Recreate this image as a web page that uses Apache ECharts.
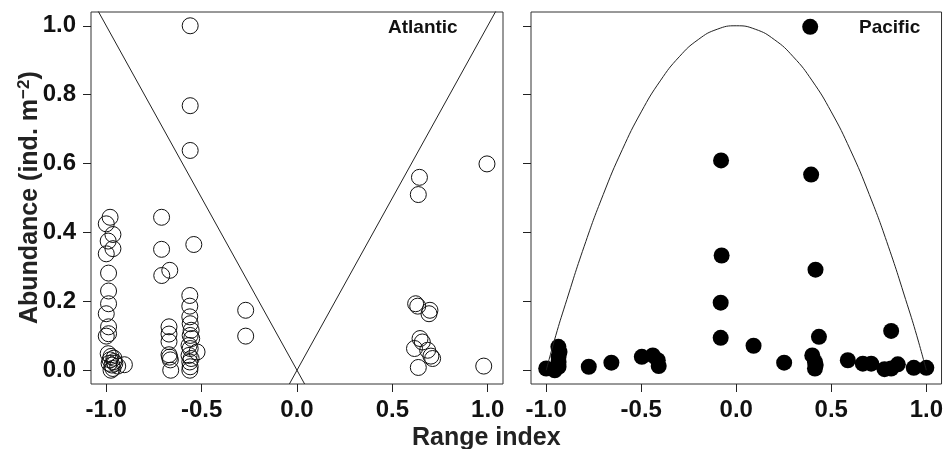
<!DOCTYPE html>
<html>
<head>
<meta charset="utf-8">
<script src="https://cdn.jsdelivr.net/npm/echarts@6/dist/echarts.min.js"></script>
<style>
  html, body { margin: 0; padding: 0; background: #fff; }
  #chart { width: 946px; height: 449px; }
</style>
</head>
<body>
<div id="chart"></div>
<script>
// Atlantic (open circles)
const atlanticX = [
  -0.56, -0.56, -0.56,
  -0.98, -1.0, -0.965, -0.99, -0.965, -1.0, -0.988, -0.988, -0.988, -1.0, -0.988, -1.0, -0.988,
  -0.99, -0.975, -0.98, -0.96, -0.985, -0.97, -0.955, -0.965, -0.975, -0.94, -0.905, -0.96,
  -0.71, -0.71, -0.667, -0.709, -0.671, -0.671, -0.671, -0.671, -0.668, -0.664, -0.662,
  -0.541, -0.562, -0.562, -0.562, -0.56, -0.555, -0.56, -0.552, -0.566, -0.56, -0.524, -0.566, -0.555, -0.562, -0.56, -0.562,
  -0.269, -0.269,
  0.996, 0.642, 0.636, 0.622, 0.633, 0.697, 0.692, 0.645, 0.657, 0.616, 0.685, 0.702, 0.711, 0.636, 0.979
];
const atlanticY = [
  1.0, 0.768, 0.638,
  0.444, 0.425, 0.394, 0.375, 0.353, 0.338, 0.282, 0.23, 0.193, 0.164, 0.126, 0.099, 0.106,
  0.048, 0.04, 0.03, 0.035, 0.02, 0.015, 0.02, 0.005, 0.0, 0.012, 0.016, 0.025,
  0.444, 0.351, 0.29, 0.275, 0.126, 0.105, 0.083, 0.045, 0.038, 0.03, 0.0,
  0.365, 0.217, 0.186, 0.155, 0.135, 0.116, 0.101, 0.092, 0.072, 0.063, 0.053, 0.043, 0.034, 0.024, 0.01, 0.0,
  0.174, 0.099,
  0.599, 0.56, 0.51, 0.193, 0.186, 0.174, 0.164, 0.092, 0.082, 0.063, 0.058, 0.041, 0.034, 0.008, 0.012
];

// Pacific (filled circles)
const pacificX = [
  0.389, 0.394, -0.08,
  -1.0, -0.936, -0.93, -0.935, -0.935, -0.935, -0.955,
  -0.776, -0.657, -0.497, -0.439, -0.413, -0.408,
  -0.077, -0.082, -0.082, 0.091, 0.252,
  0.417, 0.435, 0.4, 0.414, 0.418, 0.414,
  0.587, 0.666, 0.71, 0.815, 0.78, 0.815, 0.85, 0.934, 1.0
];
const pacificY = [
  0.997, 0.568, 0.609,
  0.005, 0.068, 0.053, 0.039, 0.024, 0.01, 0.0,
  0.01, 0.022, 0.039, 0.043, 0.029, 0.012,
  0.333, 0.196, 0.094, 0.071, 0.022,
  0.292, 0.097, 0.043, 0.024, 0.015, 0.005,
  0.029, 0.019, 0.019, 0.114, 0.003, 0.005, 0.017, 0.007, 0.007
];

// reference lines
const vLeftX = [-1.08, 0.04];
const vLeftY = [1.08, -0.04];
const vRightX = [-0.04, 1.08];
const vRightY = [-0.04, 1.08];
const curveX = [-1.0, -0.95, -0.9, -0.8, -0.7, -0.6, -0.5, -0.4, -0.3, -0.2, -0.1, 0.0,
  0.1, 0.2, 0.3, 0.4, 0.5, 0.6, 0.7, 0.8, 0.9, 0.95, 1.0];
const curveY = [0.0, 0.1, 0.19, 0.36, 0.51, 0.64, 0.75, 0.84, 0.91, 0.96, 0.99, 1.0,
  0.99, 0.96, 0.91, 0.84, 0.75, 0.64, 0.51, 0.36, 0.19, 0.1, 0.0];

const xTicks = [-1.0, -0.5, 0.0, 0.5, 1.0];
const yTicks = [0.0, 0.2, 0.4, 0.6, 0.8, 1.0];

function pairs(xs, ys) {
  return xs.map((x, i) => [x, ys[i]]);
}

const font = 'Liberation Sans, Arial, sans-serif';
const labelStyle = {fontFamily: font, fontWeight: 'bold', fontSize: 24, color: '#111'};

function xAxisFor(gridIndex) {
  return {
    type: 'value',
    gridIndex: gridIndex,
    position: 'bottom',
    min: -1.08,
    max: 1.08,
    axisLine: {show: false, onZero: false},
    splitLine: {show: false},
    axisTick: {show: true, inside: false, length: 8, lineStyle: {color: '#222'}, customValues: xTicks},
    axisLabel: Object.assign({margin: 14, customValues: xTicks, formatter: v => v.toFixed(1)}, labelStyle)
  };
}

function yAxisFor(gridIndex, showLabels) {
  return {
    type: 'value',
    gridIndex: gridIndex,
    position: 'left',
    min: -0.04,
    max: 1.04,
    axisLine: {show: false, onZero: false},
    splitLine: {show: false},
    axisTick: {show: true, inside: false, length: 8, lineStyle: {color: '#222'}, customValues: yTicks},
    axisLabel: Object.assign({show: showLabels, margin: 15, customValues: yTicks, formatter: v => v.toFixed(1)}, labelStyle)
  };
}

const chart = echarts.init(document.getElementById('chart'), null, {renderer: 'canvas'});
const option = {
  backgroundColor: '#fff',
  animation: false,
  grid: [
    {left: 91, right: 443, top: 12, bottom: 65, show: true, borderColor: '#333', borderWidth: 1},
    {left: 531, right: 2, top: 12, bottom: 65, show: true, borderColor: '#333', borderWidth: 1}
  ],
  xAxis: [xAxisFor(0), xAxisFor(1)],
  yAxis: [yAxisFor(0, true), yAxisFor(1, false)],
  graphic: [
    {
      type: 'text', left: 388, top: 18,
      style: {text: 'Atlantic', fontFamily: font, fontWeight: 'bold', fontSize: 19, fill: '#111'}
    },
    {
      type: 'text', left: 859, top: 18,
      style: {text: 'Pacific', fontFamily: font, fontWeight: 'bold', fontSize: 19, fill: '#111'}
    },
    {
      type: 'text', left: 412, top: 426,
      style: {text: 'Range index', fontFamily: font, fontWeight: 'bold', fontSize: 25, fill: '#222'}
    },
    {
      type: 'text', x: 16, y: 324, rotation: Math.PI / 2,
      style: {
        text: 'Abundance (ind. m{sup|−2})',
        fontFamily: font, fontWeight: 'bold', fontSize: 25, fill: '#222',
        rich: {sup: {fontFamily: font, fontWeight: 'bold', fontSize: 17, fill: '#222', verticalAlign: 'top', padding: [0, 0, 11, 0]}}
      }
    }
  ],
  series: [
    {
      type: 'line', xAxisIndex: 0, yAxisIndex: 0, data: pairs(vLeftX, vLeftY),
      showSymbol: false, clip: true, lineStyle: {color: '#222', width: 1}
    },
    {
      type: 'line', xAxisIndex: 0, yAxisIndex: 0, data: pairs(vRightX, vRightY),
      showSymbol: false, clip: true, lineStyle: {color: '#222', width: 1}
    },
    {
      name: 'Atlantic', type: 'scatter', xAxisIndex: 0, yAxisIndex: 0,
      data: pairs(atlanticX, atlanticY), symbol: 'circle', symbolSize: 16,
      itemStyle: {color: 'rgba(0,0,0,0)', borderColor: '#111', borderWidth: 1, opacity: 1}
    },
    {
      type: 'line', xAxisIndex: 1, yAxisIndex: 1, data: pairs(curveX, curveY),
      smooth: true, showSymbol: false, clip: true, lineStyle: {color: '#222', width: 1}
    },
    {
      name: 'Pacific', type: 'scatter', xAxisIndex: 1, yAxisIndex: 1,
      data: pairs(pacificX, pacificY), symbol: 'circle', symbolSize: 16,
      itemStyle: {color: '#000', opacity: 1}
    }
  ]
};
chart.setOption(option);
</script>
</body>
</html>
